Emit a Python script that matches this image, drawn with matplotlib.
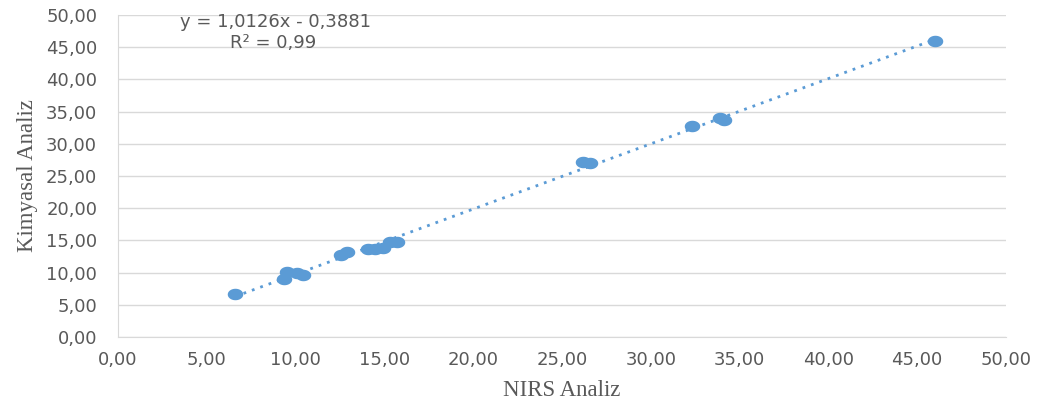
import numpy as np
import matplotlib
matplotlib.use("Agg")
from matplotlib import pyplot as plt
from matplotlib.path import Path

# NIRS vs chemical analysis values
nirs = [6.6, 9.35, 9.5, 10.1, 10.4, 12.55, 12.9, 14.1, 14.5, 14.9, 15.3, 15.7,
        26.2, 26.6, 32.3, 33.9, 34.1, 46.0]
kimyasal = [6.6, 9.0, 10.1, 9.9, 9.6, 12.7, 13.2, 13.6, 13.6, 13.8, 14.75, 14.75,
            27.2, 27.0, 32.7, 34.0, 33.7, 46.0]
slope = 1.0126
intercept = -0.3881
r2_text = "0,99"
ticks = [0, 5, 10, 15, 20, 25, 30, 35, 40, 45, 50]

blue = '#5B9BD5'
grey = '#595959'

def fmt(v):
    return ('%.2f' % v).replace('.', ',')

# horizontally stretched ellipse marker
t = np.linspace(0, 2 * np.pi, 40)
ell = Path(np.column_stack([1.35 * np.cos(t), np.sin(t)]), closed=True)

fig = plt.figure(figsize=(10.38, 4.03), dpi=100)
ax = fig.add_axes([0.1137, 0.1638, 0.8553, 0.799])

ax.set_xlim(0, 50)
ax.set_ylim(0, 50)
ax.set_xticks(ticks)
ax.set_yticks(ticks)
ax.set_xticklabels([fmt(v) for v in ticks], fontsize=13, color=grey)
ax.set_yticklabels([fmt(v) for v in ticks], fontsize=13, color=grey)
ax.tick_params(axis='y', length=0, pad=15)
ax.tick_params(axis='x', length=0, pad=10)
ax.grid(axis='y', color='#D9D9D9', linewidth=1)
ax.set_axisbelow(True)
for s in ['top', 'right']:
    ax.spines[s].set_visible(False)
for s in ['left', 'bottom']:
    ax.spines[s].set_color('#D9D9D9')

xs = np.array([min(nirs), max(nirs)])
ax.plot(xs, slope * xs + intercept, color=blue, linestyle=(0, (1, 2.2)),
        linewidth=2, zorder=2)
ax.scatter(nirs, kimyasal, marker=ell, s=125, color=blue, zorder=3, linewidths=0)

ax.text(0.173, 0.968, 'y = 1,0126x - 0,3881', transform=fig.transFigure,
        fontsize=13, color=grey, ha='left', va='top')
ax.text(0.222, 0.915, 'R² = ' + r2_text, transform=fig.transFigure,
        fontsize=13, color=grey, ha='left', va='top')

ax.set_xlabel('NIRS Analiz', fontfamily='Liberation Serif', fontsize=16.5,
              color=grey, labelpad=8)
ax.set_ylabel('Kimyasal Analiz', fontfamily='Liberation Serif', fontsize=16.5,
              color=grey, labelpad=6)

fig.savefig('out.png', dpi=100)
